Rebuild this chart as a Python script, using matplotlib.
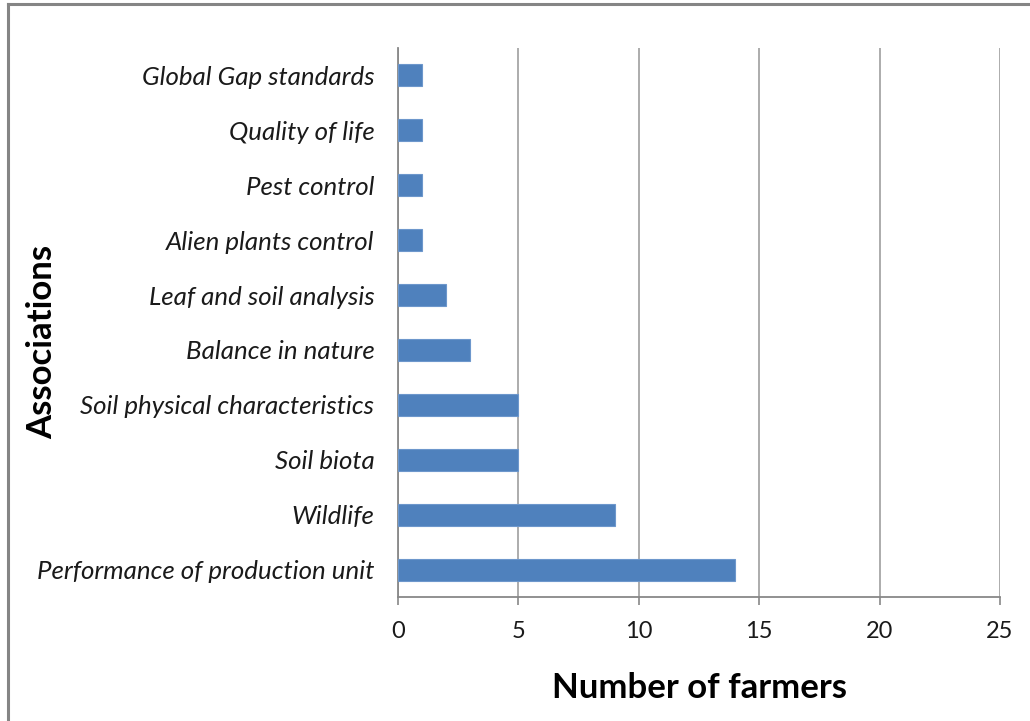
import matplotlib.pyplot as plt
import numpy as np

plt.rcParams['font.family'] = ['Lato', 'DejaVu Sans']

categories = ['Performance of production unit', 'Wildlife', 'Soil biota',
              'Soil physical characteristics', 'Balance in nature',
              'Leaf and soil analysis', 'Alien plants control',
              'Pest control', 'Quality of life', 'Global Gap standards']
farmers = [14, 9, 5, 5, 3, 2, 1, 1, 1, 1]
x_ticks = [0, 5, 10, 15, 20, 25]

fig = plt.figure(figsize=(10.30, 7.21), dpi=100)
ax = fig.add_axes([398 / 1030, 1 - 597 / 721, 602 / 1030, 549 / 721])

y = np.arange(len(categories))
ax.barh(y, farmers, height=0.4, color='#4F81BD', edgecolor='#6D97CC',
        linewidth=0.8, zorder=3)

ax.set_xlim(0, 25)
ax.set_ylim(-0.5, len(categories) - 0.5)
ax.set_xticks(x_ticks)
ax.set_yticks(y)
ax.set_yticklabels(categories, fontsize=18.6, style='italic', color='#1a1a1a')
ax.tick_params(axis='y', length=0, pad=17)
ax.tick_params(axis='x', length=6, width=1.2, color='#888888',
               labelsize=17, pad=11, labelcolor='#1a1a1a')

ax.grid(axis='x', color='#A6A6A6', linewidth=1.3, zorder=0)
for side in ['top', 'right']:
    ax.spines[side].set_visible(False)
for side in ['left', 'bottom']:
    ax.spines[side].set_color('#888888')
    ax.spines[side].set_linewidth(1.3)

fig.text(700 / 1030, 1 - 688 / 721, 'Number of farmers', ha='center',
         va='center', fontsize=25, fontweight='bold')
fig.text(42 / 1030, 1 - 342 / 721, 'Associations', ha='center',
         va='center', rotation=90, fontsize=25, fontweight='bold')

# chart frame: only top and left edges fall inside the image
fig.add_artist(plt.Line2D([8 / 1030, 8 / 1030], [0, 1 - 4 / 721],
                          transform=fig.transFigure, color='#858585', linewidth=2.2))
fig.add_artist(plt.Line2D([8 / 1030, 1], [1 - 4 / 721, 1 - 4 / 721],
                          transform=fig.transFigure, color='#858585', linewidth=2.2))

fig.savefig('out.png', dpi=100)
